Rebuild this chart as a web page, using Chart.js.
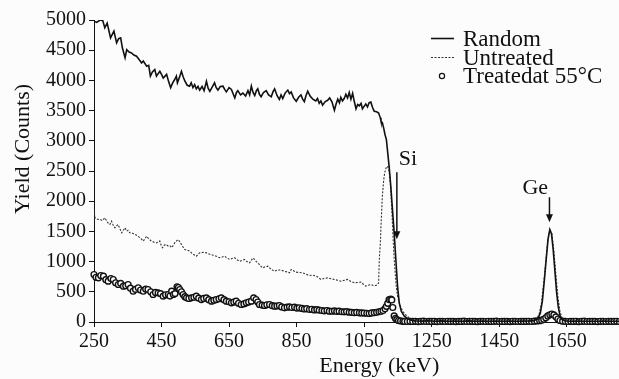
<!DOCTYPE html>
<html lang="en">

<head>
    <meta charset="utf-8">
    <title>RBS spectra</title>
    <script src="https://cdn.jsdelivr.net/npm/chart.js"></script>
    <style>
        body { margin: 0; overflow: hidden; background: #fcfcfc; }
    </style>
</head>

<body>

    <canvas id="rbsChart" width="670" height="379"></canvas>

    <script>
        // tick values on the energy axis (keV)
        const energyTicks = [250, 450, 650, 850, 1050, 1250, 1450, 1650];

        // Random spectrum
        const randomE = [250, 258, 268, 276, 282, 289, 299, 309, 317, 323, 329, 334, 342, 347, 354, 361, 368, 376, 383, 391,
            396, 406, 412, 417, 423, 430, 435, 445, 450, 455, 465, 471, 477, 483, 489, 494, 497, 503, 509, 514,
            519, 526, 533, 538, 543, 548, 553, 558, 563, 570, 576, 583, 588, 593, 600, 607, 612, 617, 624, 632,
            637, 642, 650, 657, 662, 667, 672, 676, 684, 691, 699, 706, 711, 716, 721, 726, 731, 735, 740, 745,
            752, 760, 767, 775, 780, 785, 792, 799, 804, 809, 816, 824, 829, 834, 841, 849, 856, 863, 868, 873,
            878, 883, 890, 898, 907, 912, 917, 922, 927, 935, 942, 948, 955, 962, 967, 972, 977, 981, 986, 991,
            996, 1001, 1006, 1011, 1016, 1021, 1026, 1031, 1036, 1041, 1045, 1050, 1055, 1060, 1065, 1070, 1075, 1080, 1087, 1093,
            1098, 1100, 1104, 1108, 1112, 1116, 1120, 1124, 1129, 1134, 1139, 1144, 1149, 1154, 1160, 1169, 1180, 1190, 1200, 1220,
            1240, 1260, 1280, 1300, 1320, 1340, 1360, 1380, 1400, 1420, 1440, 1460, 1480, 1500, 1520, 1540, 1555, 1565, 1572, 1578,
            1584, 1590, 1595, 1600, 1605, 1610, 1615, 1620, 1625, 1630, 1636, 1645, 1660, 1680, 1700, 1720, 1740, 1760, 1780,
            1800, 1820, 1850];
        const randomCounts = [4980, 4960, 5000, 4990, 4870, 4950, 4705, 4815, 4620, 4690, 4705, 4540, 4375, 4510, 4470, 4455, 4420, 4400, 4350, 4290,
            4320, 4235, 4250, 4070, 4140, 4180, 4070, 4150, 4100, 4040, 4100, 3980, 3880, 3960, 4015, 4070, 3960, 4050, 4150, 4060,
            3990, 3920, 3905, 3960, 3880, 3930, 3860, 3900, 3840, 3900, 3830, 3985, 3870, 3820, 3890, 3960, 3880, 3840, 3900, 3905,
            3850, 3810, 3880, 3850, 3780, 3710, 3800, 3830, 3760, 3790, 3740, 3830, 3760, 3905, 3800, 3750, 3830, 3860, 3770, 3730,
            3800, 3830, 3760, 3730, 3810, 3860, 3750, 3685, 3760, 3700, 3790, 3840, 3780, 3810, 3710, 3655, 3720, 3760, 3690, 3650,
            3750, 3820, 3740, 3690, 3660, 3700, 3620, 3660, 3590, 3650, 3670, 3710, 3640, 3505, 3610, 3690, 3630, 3720, 3660, 3700,
            3770, 3710, 3800, 3690, 3785, 3650, 3530, 3600, 3580, 3620, 3530, 3570, 3610, 3560, 3630, 3640, 3550, 3490, 3480, 3460,
            3380, 3325, 3300, 3210, 3100, 3020, 2800, 2580, 2250, 1860, 1480, 1035, 595, 320, 180, 95, 55, 30, 20, 15,
            20, 12, 18, 10, 15, 12, 18, 10, 14, 12, 16, 10, 14, 12, 15, 18, 25, 60, 150, 350,
            700, 1080, 1380, 1530, 1460, 1200, 850, 500, 250, 110, 45, 20, 12, 15, 10, 12, 10, 14, 10,
            12, 10, 12];

        // Untreated spectrum
        const untreatedE = [250, 253, 260, 268, 275, 282, 290, 297, 302, 307, 312, 317, 321, 327, 332, 337, 342, 347, 351, 356,
            364, 371, 378, 386, 391, 396, 401, 406, 413, 420, 428, 435, 440, 445, 449, 453, 458, 463, 470, 475,
            480, 485, 489, 494, 499, 504, 509, 514, 519, 526, 534, 538, 543, 548, 553, 558, 563, 570, 578, 585,
            593, 600, 607, 615, 622, 630, 637, 644, 652, 659, 666, 674, 681, 689, 696, 703, 711, 716, 720, 725,
            730, 735, 740, 745, 750, 757, 765, 770, 775, 780, 784, 792, 799, 806, 814, 822, 829, 834, 842, 849,
            858, 868, 878, 888, 898, 908, 915, 922, 932, 942, 952, 962, 972, 981, 991, 1001, 1011, 1021, 1031, 1041,
            1048, 1055, 1062, 1070, 1078, 1085, 1090, 1093, 1095, 1098, 1100, 1104, 1108, 1111, 1115, 1119, 1123, 1126, 1129, 1132,
            1136, 1139, 1142, 1145, 1149, 1156, 1164, 1173, 1183, 1190, 1198, 1210, 1230, 1260, 1290, 1320, 1350, 1380, 1410, 1440,
            1470, 1500, 1530, 1550, 1560, 1568, 1575, 1582, 1588, 1594, 1600, 1606, 1612, 1618, 1624, 1630, 1636, 1643, 1655, 1680,
            1720, 1760, 1800, 1850];
        const untreatedCounts = [1860, 1725, 1700, 1697, 1680, 1725, 1650, 1615, 1670, 1600, 1560, 1590, 1615, 1540, 1477, 1520, 1560, 1505, 1520, 1477,
            1470, 1450, 1430, 1395, 1370, 1340, 1380, 1420, 1370, 1340, 1320, 1310, 1330, 1340, 1270, 1230, 1270, 1285, 1255, 1260,
            1230, 1270, 1310, 1340, 1365, 1330, 1285, 1240, 1200, 1190, 1170, 1150, 1120, 1110, 1090, 1120, 1145, 1150, 1155, 1140,
            1120, 1110, 1100, 1080, 1065, 1075, 1090, 1060, 1035, 1050, 1065, 1030, 1005, 1020, 1035, 1000, 980, 1020, 1060, 1040,
            1005, 980, 950, 920, 895, 915, 925, 895, 870, 855, 840, 860, 860, 855, 840, 830, 815, 870, 845, 825,
            820, 815, 790, 770, 775, 760, 735, 705, 720, 730, 715, 705, 690, 675, 690, 705, 670, 650, 655, 660,
            625, 595, 610, 620, 605, 605, 620, 650, 1035, 1300, 1585, 2080, 2350, 2470, 2550, 2580, 2530, 2415, 2200, 1865,
            1370, 1050, 815, 600, 430, 280, 180, 120, 70, 35, 12, 8, 5, 8, 5, 6, 5, 7, 5, 6,
            5, 7, 6, 15, 40, 120, 300, 650, 1000, 1350, 1510, 1470, 1180, 780, 420, 180, 70, 25, 8, 5,
            6, 5, 5, 5];

        // Treated at 55 °C spectrum
        const treatedE = [250, 256, 263, 270, 278, 285, 292, 300, 307, 314, 322, 329, 337, 344, 351, 358, 366, 373, 381, 388,
            396, 403, 410, 418, 425, 432, 440, 447, 455, 462, 470, 475, 480, 485, 490, 496, 500, 504, 509, 514,
            519, 524, 531, 539, 546, 553, 560, 568, 575, 583, 590, 598, 605, 612, 620, 627, 635, 642, 650, 657,
            664, 671, 678, 686, 694, 701, 708, 716, 723, 730, 735, 740, 748, 755, 762, 770, 778, 785, 792, 799,
            806, 814, 822, 829, 836, 844, 851, 858, 866, 873, 880, 888, 895, 903, 910, 917, 925, 932, 940, 947,
            955, 962, 969, 976, 984, 991, 998, 1006, 1013, 1021, 1028, 1036, 1043, 1050, 1058, 1065, 1072, 1080, 1087, 1094,
            1100, 1106, 1112, 1116, 1120, 1124, 1129, 1132, 1135, 1139, 1143, 1147, 1152, 1158, 1165,
            1170, 1178, 1186, 1194, 1202, 1210, 1218, 1226, 1234, 1242, 1250, 1258, 1266, 1274, 1282, 1290, 1298, 1306, 1314, 1322,
            1330, 1338, 1346, 1354, 1362, 1370, 1378, 1386, 1394, 1402, 1410, 1418, 1426, 1434, 1442, 1450, 1458, 1466, 1474, 1482,
            1490, 1498, 1506, 1514, 1522, 1530, 1538, 1546, 1554, 1562, 1570, 1576, 1582, 1588, 1594, 1600, 1606, 1612, 1618, 1624,
            1630, 1638, 1646, 1654, 1662, 1670, 1678, 1686, 1694, 1702, 1710, 1718, 1726, 1734, 1742, 1750, 1758, 1766, 1774, 1782,
            1790, 1798, 1806, 1814, 1822, 1830, 1838, 1846];
        const treatedCounts = [786, 740, 731, 770, 759, 700, 676, 720, 704, 650, 621, 640, 593, 600, 621, 560, 510, 540, 566, 530,
            510, 545, 538, 500, 455, 490, 483, 470, 428, 450, 455, 430, 510, 455, 470, 583, 570, 538, 500, 455,
            420, 400, 390, 400, 410, 428, 395, 372, 390, 400, 370, 345, 360, 372, 385, 400, 370, 345, 335, 318,
            330, 345, 310, 290, 300, 318, 330, 345, 400, 372, 330, 290, 280, 273, 285, 290, 270, 262, 265, 273,
            250, 235, 245, 251, 240, 245, 230, 235, 225, 215, 220, 207, 210, 200, 205, 196, 190, 185, 190, 180,
            178, 185, 175, 180, 170, 168, 172, 163, 160, 155, 158, 152, 150, 148, 145, 141, 150, 155, 160, 170,
            178, 190, 220, 260, 310, 372, 380, 365, 240, 100, 60, 40, 25, 18, 12,
            10, 8, 12, 9, 11, 7, 10, 13, 8, 10, 9, 12, 7, 10, 11, 8, 12, 9, 10, 7,
            11, 9, 13, 8, 10, 12, 9, 7, 11, 10, 8, 12, 9, 10, 13, 8, 10, 9, 11, 7,
            12, 10, 8, 11, 9, 10, 12, 8, 14, 18, 22, 30, 45, 70, 100, 120, 132, 118, 85, 50,
            25, 14, 10, 8, 11, 9, 12, 7, 10, 13, 8, 10, 9, 11, 7, 12, 10, 8, 11, 9,
            10, 12, 8, 10, 9, 11, 8, 10];

        // element markers: label position and arrow, in data units
        const peakMarks = [
            { label: 'Si', textX: 1180, textY: 2700, x: 1147, from: 2480, to: 1370 },
            { label: 'Ge', textX: 1557, textY: 2210, x: 1599, from: 2065, to: 1650 }
        ];

        const serif = '"Liberation Serif", "Times New Roman", serif';

        function toPoints(xs, ys) {
            return xs.map((e, i) => ({ x: e, y: ys[i] }));
        }

        // arrows, element labels and the legend inside the plot
        const overlay = {
            id: 'overlay',
            afterDatasetsDraw(chart) {
                const { ctx, scales: { x, y } } = chart;
                ctx.save();
                ctx.fillStyle = '#111';
                ctx.strokeStyle = '#111';
                ctx.font = '22px ' + serif;
                ctx.textAlign = 'center';
                ctx.textBaseline = 'middle';

                peakMarks.forEach(m => {
                    ctx.fillText(m.label, x.getPixelForValue(m.textX), y.getPixelForValue(m.textY));
                    const px = x.getPixelForValue(m.x);
                    const y0 = y.getPixelForValue(m.from);
                    const y1 = y.getPixelForValue(m.to);
                    ctx.lineWidth = 1.5;
                    ctx.beginPath();
                    ctx.moveTo(px, y0);
                    ctx.lineTo(px, y1 - 6);
                    ctx.stroke();
                    ctx.beginPath();
                    ctx.moveTo(px - 3.5, y1 - 8);
                    ctx.lineTo(px + 3.5, y1 - 8);
                    ctx.lineTo(px, y1);
                    ctx.closePath();
                    ctx.fill();
                });

                // legend
                const ds = chart.data.datasets;
                const rows = [38.5, 57.5, 76];
                ctx.font = '23px ' + serif;
                ctx.textAlign = 'left';
                ds.forEach((d, i) => {
                    const ly = rows[i];
                    if (d.showLine === false) {
                        ctx.beginPath();
                        ctx.lineWidth = 1.2;
                        ctx.fillStyle = '#fff';
                        ctx.arc(442, ly, 2.6, 0, Math.PI * 2);
                        ctx.fill();
                        ctx.stroke();
                    } else {
                        ctx.lineWidth = d.borderWidth;
                        ctx.setLineDash(d.borderDash || []);
                        ctx.strokeStyle = d.borderColor;
                        ctx.beginPath();
                        ctx.moveTo(431, ly);
                        ctx.lineTo(454, ly);
                        ctx.stroke();
                        ctx.setLineDash([]);
                        ctx.strokeStyle = '#111';
                    }
                    ctx.fillStyle = '#111';
                    ctx.fillText(d.label, 463, ly + 1);
                });
                ctx.restore();
            }
        };

        const plainNumber = v => String(v);

        const rbsChart = new Chart(document.getElementById('rbsChart'), {
            type: 'line',
            data: {
                datasets: [{
                    label: 'Random',
                    data: toPoints(randomE, randomCounts),
                    borderColor: '#111',
                    borderWidth: 1.6,
                    pointRadius: 0,
                    order: 1
                }, {
                    label: 'Untreated',
                    data: toPoints(untreatedE, untreatedCounts),
                    borderColor: '#333',
                    borderWidth: 1.1,
                    borderDash: [2, 1.5],
                    pointRadius: 0,
                    order: 2
                }, {
                    label: 'Treatedat 55°C',
                    data: toPoints(treatedE, treatedCounts),
                    showLine: false,
                    pointStyle: 'circle',
                    pointRadius: 2.9,
                    pointBorderWidth: 1.4,
                    pointBorderColor: '#111',
                    pointBackgroundColor: '#fff',
                    clip: false,
                    order: 3
                }]
            },
            options: {
                responsive: false,
                animation: false,
                layout: { padding: { top: 20, right: 4, left: 0, bottom: 0 } },
                plugins: {
                    legend: { display: false },
                    tooltip: { enabled: false }
                },
                scales: {
                    x: {
                        type: 'linear',
                        min: 250,
                        max: 1940,
                        afterBuildTicks: scale => { scale.ticks = energyTicks.map(v => ({ value: v })); },
                        afterFit: scale => { scale.height = 57; },
                        grid: { drawOnChartArea: false, tickLength: 5, color: '#111' },
                        border: { color: '#111', width: 1 },
                        ticks: { color: '#111', padding: 3, maxRotation: 0, callback: plainNumber, font: { family: serif, size: 20 } },
                        title: {
                            display: true,
                            text: 'Energy (keV)',
                            color: '#111',
                            padding: { top: 0, bottom: 0 },
                            font: { family: serif, size: 22 }
                        }
                    },
                    y: {
                        min: 0,
                        max: 5000,
                        ticks: { stepSize: 500, color: '#111', padding: 3, callback: plainNumber, font: { family: serif, size: 20 } },
                        afterFit: scale => { scale.width = 94; },
                        grid: { drawOnChartArea: false, tickLength: 5, color: '#111' },
                        border: { color: '#111', width: 1 },
                        title: {
                            display: true,
                            // leading spaces push the label up, as in the original figure
                            text: '        Yield (Counts)',
                            color: '#111',
                            padding: { top: 10, bottom: 0 },
                            font: { family: serif, size: 22 }
                        }
                    }
                }
            },
            plugins: [overlay]
        });
    </script>

</body>

</html>
